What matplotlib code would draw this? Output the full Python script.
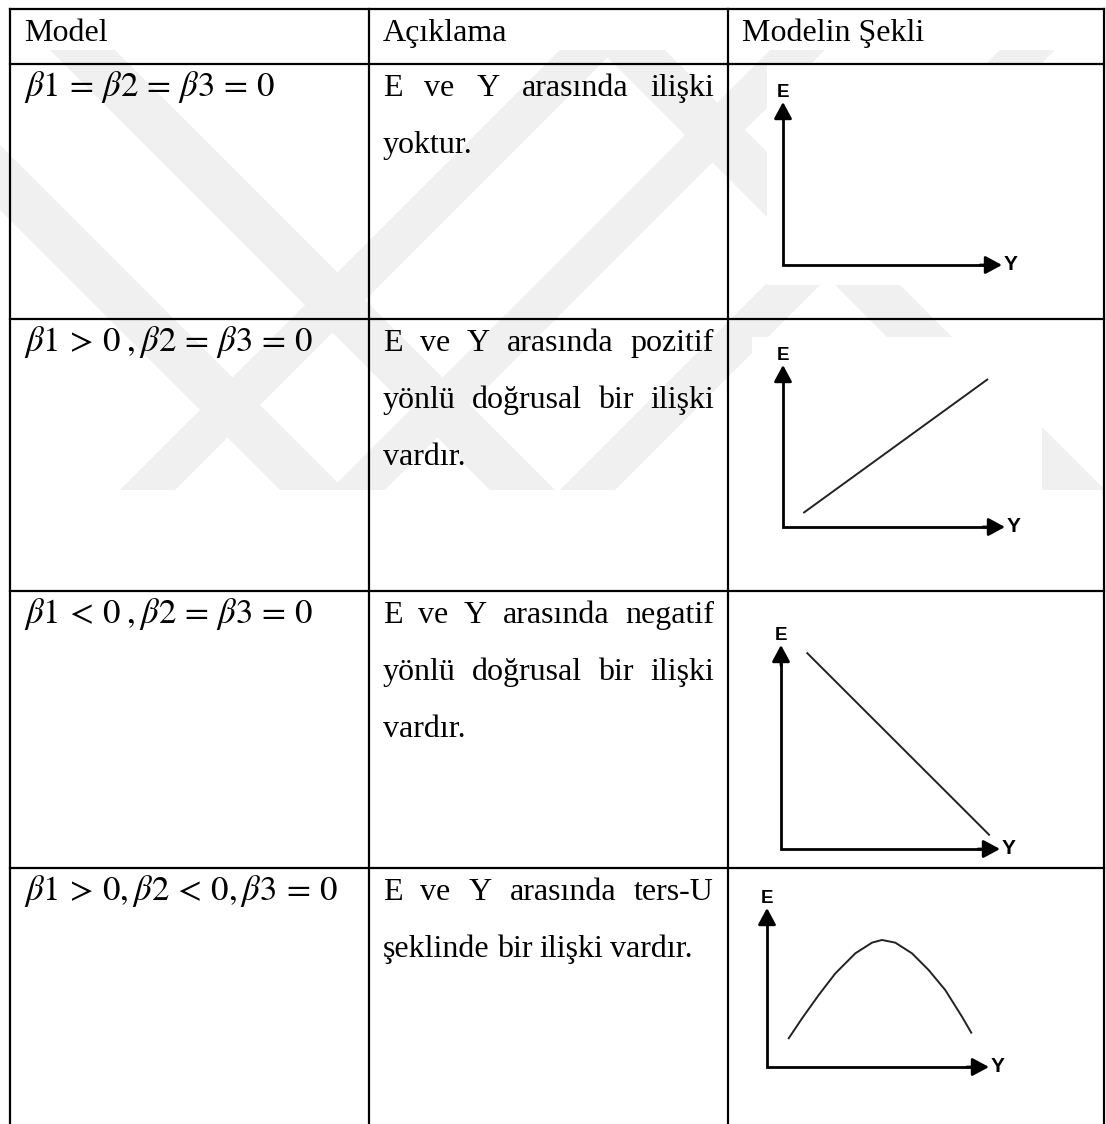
import matplotlib
matplotlib.use('Agg')
import matplotlib.pyplot as plt
from matplotlib.patches import Polygon, Rectangle

# ---- table content ----
headers = ['Model', 'Açıklama', 'Modelin Şekli']
models = [r'$\beta1\,=\,\beta2\,=\,\beta3\,=\,0$',
          r'$\beta1\,>\,0\;,\beta2\,=\,\beta3\,=\,0$',
          r'$\beta1\,<\,0\;,\beta2\,=\,\beta3\,=\,0$',
          r'$\beta1\,>\,0,\beta2\,<\,0,\beta3\,=\,0$']
descriptions = [
    ['E ve Y arasında ilişki', 'yoktur.'],
    ['E ve Y arasında pozitif', 'yönlü doğrusal bir ilişki', 'vardır.'],
    ['E ve Y arasında negatif', 'yönlü doğrusal bir ilişki', 'vardır.'],
    ['E ve Y arasında ters-U', 'şeklinde bir ilişki vardır.'],
]

# shape of each model: Y (x axis) and E (y axis), as fractions of the small axes
shape_y = [
    [],
    [0.095, 0.92],
    [0.12, 0.95],
    [0.098, 0.158, 0.233, 0.308, 0.398, 0.473, 0.518, 0.578, 0.653, 0.728, 0.803, 0.878, 0.920],
]
shape_e = [
    [],
    [0.09, 0.91],
    [0.96, 0.07],
    [0.181, 0.306, 0.453, 0.589, 0.715, 0.782, 0.799, 0.782, 0.715, 0.610, 0.484, 0.317, 0.216],
]

# ---- layout (pixels) ----
W, H = 1106, 1124
col_x = [10, 369, 728, 1104]
row_y = [9, 64, 319, 591, 868]
frames = [(783, 265, 219, 163), (783, 527, 222, 162), (781, 849, 219, 204), (767, 1067, 222, 159)]
first_base = 32
line_gap = 57
pad = 14

plt.rcParams['mathtext.fontset'] = 'stix'
serif = 'Liberation Serif'
fs = 23

fig = plt.figure(figsize=(W / 100, H / 100), dpi=100)
ax = fig.add_axes([0, 0, 1, 1])
ax.set_xlim(0, W)
ax.set_ylim(H, 0)
ax.axis('off')
renderer = fig.canvas.get_renderer()

# faint watermark stripes in the background
wm = '#f0f0f0'
for xa in [50, -160, 600]:      # "\" stripes
    ax.add_patch(Polygon([(xa, 50), (xa + 65, 50), (xa + 505, 490), (xa + 440, 490)],
                         closed=True, fc=wm, ec='none', zorder=0))
for xb in [120, 330, 560]:      # "/" stripes
    ax.add_patch(Polygon([(xb, 490), (xb + 55, 490), (xb + 495, 50), (xb + 440, 50)],
                         closed=True, fc=wm, ec='none', zorder=0))
# white backgrounds of the pasted pictures
ax.add_patch(Rectangle((767, 65), 291, 220, fc='white', ec='none', zorder=1))
ax.add_patch(Rectangle((752, 337), 290, 230, fc='white', ec='none', zorder=1))

# grid lines
lw = 1.6
for x in col_x:
    ax.plot([x, x], [row_y[0], H], color='black', lw=lw, zorder=3, solid_capstyle='projecting')
for y in row_y:
    ax.plot([col_x[0], col_x[-1]], [y, y], color='black', lw=lw, zorder=3, solid_capstyle='projecting')


def put_line(words_line, x0, x1, y, justify):
    words = words_line.split(' ')
    texts = [ax.text(0, y, w, fontsize=fs, family=serif, va='baseline', ha='left', zorder=4)
             for w in words]
    widths = [t.get_window_extent(renderer).width for t in texts]
    if justify and len(words) > 1:
        gap = (x1 - x0 - sum(widths)) / (len(words) - 1)
    else:
        gap = 7
    x = x0
    for t, w in zip(texts, widths):
        t.set_x(x)
        x += w + gap


# header
for c, h in enumerate(headers):
    ax.text(col_x[c] + pad, row_y[0] + first_base, h, fontsize=fs, family=serif,
            va='baseline', ha='left', zorder=4)

for r in range(4):
    top = row_y[r + 1]
    ax.text(col_x[0] + pad, top + first_base, models[r], fontsize=25,
            va='baseline', ha='left', zorder=4)
    lines = descriptions[r]
    for i, ln in enumerate(lines):
        put_line(ln, col_x[1] + pad, col_x[2] - pad, top + first_base + i * line_gap,
                 justify=(i < len(lines) - 1))

    # the little E-Y sketch
    ox, oy, w, h = frames[r]
    sub = fig.add_axes([ox / W, 1 - oy / H, w / W, h / H])
    sub.set_xlim(0, 1)
    sub.set_ylim(0, 1)
    sub.axis('off')
    sub.plot([0, 0, 0.96], [0.96, 0, 0], color='black', lw=2.0,
             solid_joinstyle='miter', clip_on=False)
    arrow = dict(arrowstyle='-|>,head_length=0.5,head_width=0.27', color='black',
                 lw=2.0, mutation_scale=20, shrinkA=0, shrinkB=0)
    sub.annotate('', xy=(0, 1), xytext=(0, 0.9), arrowprops=arrow)
    sub.annotate('', xy=(1, 0), xytext=(0.9, 0), arrowprops=arrow)
    sub.annotate('E', xy=(0, 1), xytext=(0, 1), textcoords='offset points',
                 ha='center', va='bottom', fontsize=13.5, family='Liberation Sans',
                 fontweight='bold')
    sub.annotate('Y', xy=(1, 0), xytext=(1, 0), textcoords='offset points',
                 ha='left', va='center', fontsize=15, family='Liberation Sans',
                 fontweight='bold')
    if shape_y[r]:
        sub.plot(shape_y[r], shape_e[r], color='#222222', lw=1.4, clip_on=False)

fig.savefig('out.png', dpi=100)
